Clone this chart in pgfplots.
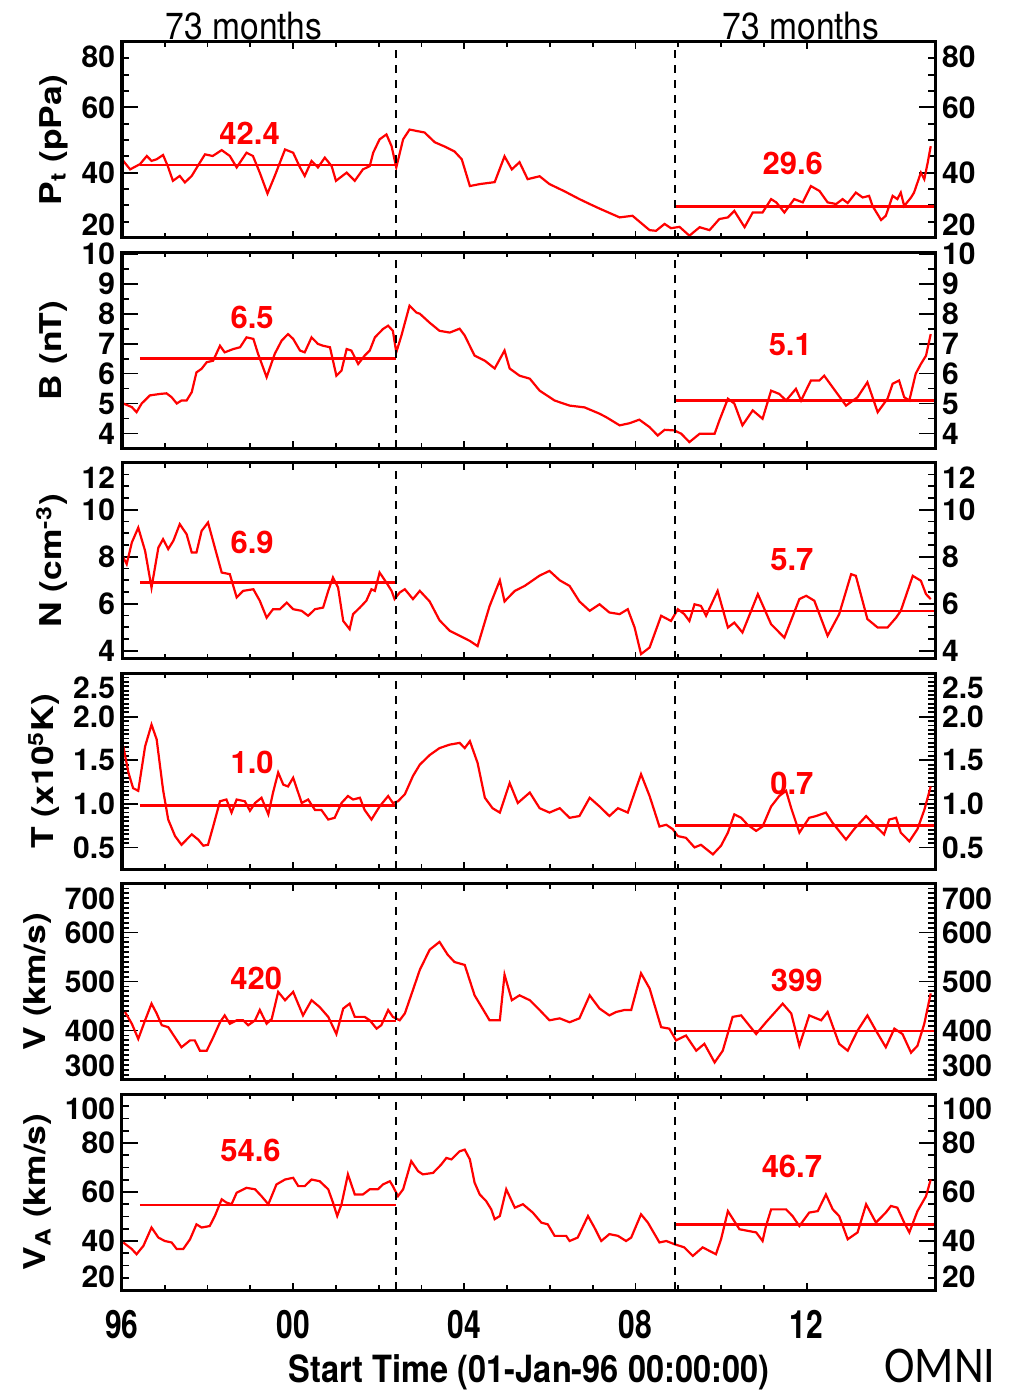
\documentclass[border=0pt]{standalone}
\usepackage{fontspec}
\setmainfont{TeX Gyre Heros}
\newfontfamily\omnifont{Carlito}
\usepackage{pgfplots}
\usepackage{pgfplotstable}
\pgfplotsset{compat=1.18}

\newcommand\tlfont{\fontsize{15}{18}\selectfont\bfseries}
\newcommand\labfont{\fontsize{15}{18}\selectfont\bfseries}
\newcommand\numfont{\fontsize{15.5}{18}\selectfont\bfseries}

\pgfplotsset{
  edgelab/.style 2 args={
    yticklabel={\pgfmathtruncatemacro\lpos{(abs(\tick-(#2))<0.0001)?1:((abs(\tick-(#1))<0.0001)?2:0)}\ifcase\lpos\pgfmathprintnumber{\tick}\or\raisebox{-0.5em}[\height][\depth]{\pgfmathprintnumber{\tick}}\or\raisebox{0.45em}[\height][\depth]{\pgfmathprintnumber{\tick}}\fi},
  },
  common/.style={
    scale only axis, width=406.5pt, height=98pt, anchor=south west,
    xmin=0, xmax=19, tick align=inside,
    axis line style={line width=1.5pt},
    every tick/.style={black, line width=0.9pt},
    tick label style={font=\tlfont},
    /pgf/number format/assume math mode=true,
  },
  panelA/.style={common, xtick=\empty, yticklabel pos=left,
    major tick length=8pt, minor tick length=3.5pt,
    ylabel style={font=\labfont}},
  panelB/.style={common, xtick={0,4,8,12,16}, minor x tick num=3, xticklabels={},
    yticklabel pos=right, minor y tick num=0,
    major tick length=3.5pt, minor tick length=2.5pt, ytick style={draw=none}},
  meanline/.style={red, line width=1.2pt},
  curve/.style={red, line width=1.1pt},
  vdash/.style={black, line width=1pt, dash pattern=on 4pt off 3.5pt},
}

% x = years since 1996-01-01
\pgfplotstableread{
t v
0.03 43.6
0.19 41.0
0.42 42.6
0.58 45.1
0.69 43.6
0.81 44.1
0.96 45.4
1.07 42.0
1.19 37.5
1.35 39.0
1.47 37.0
1.63 39.0
1.82 43.1
1.94 45.6
2.12 45.1
2.33 46.9
2.52 45.1
2.68 41.6
2.91 46.1
3.06 45.1
3.22 40.0
3.40 33.6
3.57 39.0
3.81 47.1
4.00 46.1
4.16 41.6
4.27 39.0
4.43 43.6
4.58 41.6
4.74 44.6
4.90 42.0
5.00 37.5
5.25 40.0
5.44 37.5
5.63 41.0
5.79 42.0
5.87 46.1
6.02 50.2
6.18 51.7
6.30 48.1
6.41 41.6
6.57 50.2
6.72 53.2
6.91 52.7
7.07 52.3
7.31 49.3
7.54 48.0
7.77 46.5
7.94 44.1
8.13 35.9
8.36 36.5
8.71 37.1
8.94 45.0
9.11 41.0
9.29 43.2
9.48 38.0
9.76 38.9
9.99 36.5
10.34 34.3
10.69 31.9
10.93 30.4
11.16 29.0
11.63 26.3
11.93 26.8
12.33 22.4
12.48 22.2
12.68 24.3
12.83 23.0
13.03 23.4
13.26 20.7
13.50 23.3
13.73 22.4
13.96 25.8
14.16 26.3
14.31 28.3
14.55 23.3
14.74 27.8
14.97 27.8
15.17 31.9
15.29 30.9
15.48 27.8
15.71 31.9
15.91 30.9
16.10 35.9
16.30 34.4
16.49 30.9
16.69 30.4
16.84 31.9
16.96 30.7
17.15 33.9
17.31 32.4
17.46 32.9
17.54 29.8
17.74 25.5
17.85 26.8
18.01 32.9
18.12 31.9
18.20 33.9
18.28 29.8
18.44 32.4
18.51 33.9
18.67 40.0
18.75 38.0
18.83 43.1
18.90 48.1
}\ptdata

\pgfplotstableread{
t v
0.03 5.0
0.23 4.88
0.34 4.71
0.46 5.0
0.65 5.27
0.89 5.32
1.04 5.34
1.16 5.21
1.28 5.0
1.39 5.1
1.51 5.1
1.63 5.38
1.74 6.04
1.86 6.16
1.98 6.38
2.13 6.43
2.29 6.93
2.40 6.71
2.60 6.82
2.76 6.88
2.91 7.21
3.07 7.16
3.18 6.66
3.38 5.88
3.57 6.66
3.73 7.1
3.88 7.32
4.00 7.16
4.16 6.77
4.27 6.71
4.43 7.21
4.58 6.99
4.70 6.93
4.86 6.88
5.01 5.93
5.13 6.1
5.25 6.82
5.36 6.77
5.52 6.32
5.67 6.6
5.79 6.77
5.91 7.21
6.10 7.49
6.22 7.6
6.33 7.43
6.41 6.71
6.53 7.27
6.72 8.27
6.88 8.04
6.96 8.0
7.19 7.7
7.42 7.43
7.66 7.37
7.89 7.5
8.01 7.27
8.24 6.6
8.48 6.43
8.71 6.17
8.94 6.77
9.06 6.17
9.29 5.93
9.53 5.83
9.76 5.43
10.11 5.1
10.46 4.93
10.81 4.87
11.16 4.66
11.32 4.54
11.63 4.27
11.86 4.34
12.09 4.46
12.33 4.21
12.52 3.93
12.68 4.12
12.91 4.1
13.07 3.99
13.26 3.71
13.50 3.99
13.85 3.99
13.96 4.43
14.16 5.16
14.31 5.0
14.50 4.27
14.74 4.77
14.97 4.49
15.17 5.43
15.36 5.32
15.52 5.1
15.75 5.49
15.87 5.1
16.10 5.77
16.30 5.77
16.41 5.93
16.69 5.38
16.92 4.93
17.19 5.21
17.42 5.71
17.66 4.71
17.89 5.16
18.01 5.66
18.16 5.77
18.28 5.21
18.40 5.1
18.55 6.0
18.67 6.32
18.79 6.6
18.90 7.32
}\bdata

\pgfplotstableread{
t v
0.03 7.97
0.11 7.69
0.23 8.61
0.38 9.24
0.54 8.25
0.69 6.69
0.85 8.39
0.96 8.75
1.08 8.33
1.20 8.68
1.35 9.39
1.51 8.96
1.63 8.18
1.74 8.18
1.86 9.1
2.01 9.46
2.17 8.39
2.33 7.33
2.52 7.26
2.68 6.27
2.83 6.55
3.07 6.62
3.22 6.13
3.38 5.41
3.53 5.77
3.69 5.77
3.85 6.05
4.00 5.77
4.20 5.7
4.35 5.49
4.51 5.77
4.70 5.84
4.82 6.55
4.93 7.12
5.05 6.69
5.17 5.27
5.32 4.92
5.40 5.56
5.56 5.84
5.71 6.13
5.83 6.62
5.91 6.55
6.02 7.33
6.18 6.9
6.30 6.55
6.37 6.2
6.49 6.48
6.61 6.62
6.80 6.2
6.96 6.55
7.19 6.1
7.42 5.3
7.66 4.85
7.89 4.64
8.13 4.42
8.31 4.2
8.59 5.9
8.83 7.0
8.94 6.1
9.18 6.55
9.41 6.76
9.76 7.2
9.99 7.4
10.23 7.0
10.46 6.76
10.69 6.1
10.93 5.7
11.16 5.98
11.39 5.63
11.63 5.56
11.82 5.77
11.98 4.99
12.13 3.86
12.33 4.14
12.60 5.49
12.83 5.27
12.99 5.77
13.14 5.56
13.26 5.27
13.38 5.98
13.53 5.91
13.65 5.49
13.92 6.55
14.16 4.99
14.31 5.2
14.50 4.78
14.86 6.41
15.17 5.13
15.48 4.56
15.83 6.2
15.99 6.34
16.18 6.13
16.49 4.64
16.76 5.56
17.04 7.26
17.15 7.19
17.42 5.35
17.66 4.99
17.89 4.99
18.09 5.41
18.20 5.7
18.48 7.19
18.67 6.98
18.79 6.41
18.90 6.2
}\ndata

\pgfplotstableread{
t v
0.03 1.66
0.15 1.36
0.26 1.18
0.38 1.15
0.54 1.66
0.69 1.91
0.81 1.74
0.96 1.16
1.08 0.82
1.24 0.63
1.39 0.53
1.63 0.65
1.78 0.59
1.90 0.52
2.01 0.53
2.13 0.74
2.29 1.03
2.44 1.05
2.56 0.90
2.68 1.05
2.87 1.03
2.99 0.92
3.11 1.01
3.26 1.07
3.42 0.88
3.53 1.13
3.65 1.36
3.77 1.22
3.88 1.20
4.00 1.30
4.20 1.01
4.35 1.05
4.51 0.93
4.66 0.93
4.82 0.82
4.97 0.84
5.13 1.01
5.28 1.09
5.40 1.05
5.56 1.07
5.67 0.93
5.83 0.82
6.02 0.97
6.22 1.09
6.33 1.01
6.45 1.03
6.61 1.11
6.80 1.32
6.96 1.45
7.19 1.56
7.42 1.64
7.66 1.68
7.89 1.70
8.01 1.64
8.13 1.72
8.31 1.47
8.48 1.07
8.66 0.95
8.83 0.90
9.06 1.24
9.25 1.01
9.53 1.13
9.76 0.95
9.99 0.90
10.23 0.95
10.46 0.84
10.69 0.86
10.93 1.07
11.16 0.97
11.39 0.86
11.59 0.95
11.82 0.90
11.98 1.13
12.13 1.34
12.33 1.09
12.56 0.74
12.72 0.76
12.87 0.71
12.99 0.63
13.18 0.61
13.38 0.50
13.53 0.53
13.81 0.42
14.00 0.52
14.16 0.67
14.31 0.88
14.47 0.84
14.62 0.76
14.82 0.69
14.97 0.74
15.17 0.97
15.36 1.09
15.52 1.15
15.64 0.95
15.83 0.67
16.06 0.84
16.22 0.86
16.45 0.90
16.61 0.78
16.92 0.59
17.11 0.71
17.39 0.86
17.62 0.74
17.81 0.65
17.93 0.82
18.09 0.84
18.20 0.67
18.40 0.57
18.59 0.71
18.75 0.93
18.90 1.20
}\tdata

\pgfplotstableread{
t v
0.07 438
0.23 414
0.38 383
0.54 421
0.69 455
0.81 435
0.93 411
1.08 407
1.24 386
1.39 366
1.59 380
1.70 380
1.82 359
1.98 359
2.13 386
2.29 417
2.40 431
2.52 414
2.68 421
2.83 421
2.95 411
3.11 421
3.22 442
3.38 414
3.50 424
3.65 479
3.81 462
4.00 479
4.23 431
4.43 462
4.62 448
4.82 428
5.01 393
5.17 445
5.32 455
5.44 428
5.67 428
5.79 421
5.95 404
6.06 411
6.22 442
6.33 428
6.49 421
6.61 435
6.80 483
6.96 524
7.19 565
7.42 581
7.61 555
7.77 540
8.01 534
8.24 472
8.59 421
8.83 421
8.94 514
9.11 462
9.29 472
9.53 462
9.76 442
9.99 421
10.23 425
10.46 417
10.69 425
10.93 472
11.16 445
11.39 431
11.55 438
11.74 442
11.90 442
12.13 517
12.33 486
12.60 407
12.79 404
12.95 380
13.18 390
13.42 359
13.61 373
13.85 335
14.04 359
14.27 428
14.47 431
14.82 393
15.05 417
15.44 455
15.64 435
15.83 369
16.06 431
16.34 421
16.49 438
16.76 373
16.96 359
17.19 400
17.42 431
17.62 400
17.85 366
18.05 404
18.24 393
18.44 355
18.59 369
18.75 414
18.90 476
}\vdata

\pgfplotstableread{
t v
0.03 39.4
0.23 36.7
0.34 34.6
0.50 38.0
0.69 45.5
0.85 41.4
1.00 40.0
1.16 39.4
1.28 36.7
1.43 36.7
1.59 40.7
1.74 46.8
1.86 45.5
2.05 46.1
2.17 50.2
2.33 57.0
2.44 55.7
2.56 55.0
2.68 59.7
2.91 61.7
3.11 61.1
3.26 58.3
3.42 55.0
3.61 63.1
3.81 65.1
4.00 65.8
4.12 62.4
4.27 62.4
4.43 65.1
4.62 64.4
4.82 61.1
4.93 55.7
5.03 50.2
5.13 55.0
5.28 67.2
5.44 59.0
5.63 59.0
5.79 61.1
5.98 61.1
6.10 63.1
6.26 64.4
6.33 62.4
6.45 58.3
6.57 61.1
6.76 72.6
6.92 68.5
7.03 67.2
7.27 67.8
7.46 71.2
7.58 73.9
7.70 73.3
7.89 76.6
8.01 77.3
8.13 73.3
8.24 63.8
8.36 59.0
8.51 56.3
8.63 52.9
8.71 48.9
8.83 50.2
8.98 61.1
9.18 53.6
9.37 55.0
9.60 51.6
9.80 47.5
9.95 46.8
10.11 42.1
10.38 42.1
10.46 40.0
10.65 41.4
10.89 50.2
11.04 45.5
11.20 40.0
11.39 42.8
11.59 42.1
11.78 40.0
11.90 41.4
12.13 50.9
12.29 47.5
12.56 39.4
12.72 40.0
12.91 38.7
13.14 37.4
13.34 33.9
13.57 37.4
13.88 34.6
14.00 40.7
14.16 52.2
14.43 44.8
14.82 43.5
14.97 40.0
15.05 46.1
15.17 52.9
15.52 52.9
15.67 50.2
15.83 46.1
16.06 51.6
16.26 52.2
16.45 59.0
16.61 52.9
16.76 50.2
16.96 40.7
17.19 43.5
17.39 55.0
17.62 47.5
17.85 51.6
17.97 54.3
18.12 53.6
18.28 47.5
18.40 43.5
18.59 52.2
18.79 58.3
18.90 65.1
}\vadata

\begin{document}
\begin{tikzpicture}
\useasboundingbox (0,0) rectangle (512pt,698.5pt);

% ---------- Panel 1: Pt ----------
\begin{axis}[panelA, at={(61pt,579.5pt)}, ymin=20, ymax=80, ytick={20,40,60,80}, minor y tick num=3,
  edgelab={20}{80}, ylabel={\scalebox{1.18}[1]{P\textsubscript{t} (pPa)}}]
\addplot[curve] table[x=t,y=v] {\ptdata};
\addplot[meanline] coordinates {(0.42,42.4) (6.41,42.4)};
\addplot[meanline] coordinates {(12.93,29.6) (19,29.6)};
\addplot[vdash] coordinates {(6.41,20) (6.41,80)};
\addplot[vdash] coordinates {(12.93,20) (12.93,80)};
\node[red,font=\numfont] at (rel axis cs:0.157,0.536) {42.4};
\node[red,font=\numfont] at (rel axis cs:0.825,0.383) {29.6};
\end{axis}
\begin{axis}[panelB, at={(61pt,579.5pt)}, ymin=20, ymax=80, ytick={20,40,60,80}, edgelab={20}{80}]
\end{axis}

% ---------- Panel 2: B ----------
\begin{axis}[panelA, at={(61pt,474.3pt)}, ymin=3.5, ymax=10.05, ytick={4,5,6,7,8,9,10}, minor y tick num=1,
  edgelab={-99}{-99}, ylabel={\scalebox{1.18}[1]{B (nT)}}]
\addplot[curve] table[x=t,y=v] {\bdata};
\addplot[meanline] coordinates {(0.42,6.5) (6.41,6.5)};
\addplot[meanline] coordinates {(12.93,5.1) (19,5.1)};
\addplot[vdash] coordinates {(6.41,3.5) (6.41,10.05)};
\addplot[vdash] coordinates {(12.93,3.5) (12.93,10.05)};
\node[red,font=\numfont] at (rel axis cs:0.160,0.666) {6.5};
\node[red,font=\numfont] at (rel axis cs:0.822,0.528) {5.1};
\end{axis}
\begin{axis}[panelB, at={(61pt,474.3pt)}, ymin=3.5, ymax=10.05, ytick={4,5,6,7,8,9,10}, edgelab={-99}{-99}]
\end{axis}

% ---------- Panel 3: N ----------
\begin{axis}[panelA, at={(61pt,369.1pt)}, ymin=3.66, ymax=12, ytick={4,6,8,10,12}, minor y tick num=3,
  edgelab={-99}{12}, ylabel={\scalebox{1.18}[1]{N (cm\textsuperscript{-3})}}]
\addplot[curve] table[x=t,y=v] {\ndata};
\addplot[meanline] coordinates {(0.42,6.9) (6.41,6.9)};
\addplot[meanline] coordinates {(12.93,5.7) (19,5.7)};
\addplot[vdash] coordinates {(6.41,3.66) (6.41,12)};
\addplot[vdash] coordinates {(12.93,3.66) (12.93,12)};
\node[red,font=\numfont] at (rel axis cs:0.160,0.592) {6.9};
\node[red,font=\numfont] at (rel axis cs:0.824,0.505) {5.7};
\end{axis}
\begin{axis}[panelB, at={(61pt,369.1pt)}, ymin=3.66, ymax=12, ytick={4,6,8,10,12}, edgelab={-99}{12}]
\end{axis}

% ---------- Panel 4: T ----------
\begin{axis}[panelA, at={(61pt,263.9pt)}, ymin=0.25, ymax=2.5, ytick={0.5,1.0,1.5,2.0,2.5}, minor y tick num=9,
  yticklabel style={/pgf/number format/fixed, /pgf/number format/fixed zerofill, /pgf/number format/precision=1},
  edgelab={-99}{2.5}, ylabel={\scalebox{1.18}[1]{T (x10\textsuperscript{5}K)}}]
\addplot[curve] table[x=t,y=v] {\tdata};
\addplot[meanline] coordinates {(0.42,0.98) (6.41,0.98)};
\addplot[meanline] coordinates {(12.93,0.75) (19,0.75)};
\addplot[vdash] coordinates {(6.41,0.25) (6.41,2.5)};
\addplot[vdash] coordinates {(12.93,0.25) (12.93,2.5)};
\node[red,font=\numfont] at (rel axis cs:0.160,0.547) {1.0};
\node[red,font=\numfont] at (rel axis cs:0.824,0.439) {0.7};
\end{axis}
\begin{axis}[panelB, at={(61pt,263.9pt)}, ymin=0.25, ymax=2.5, ytick={0.5,1.0,1.5,2.0,2.5},
  yticklabel style={/pgf/number format/fixed, /pgf/number format/fixed zerofill, /pgf/number format/precision=1},
  edgelab={-99}{2.5}]
\end{axis}

% ---------- Panel 5: V ----------
\begin{axis}[panelA, at={(61pt,158.7pt)}, ymin=300, ymax=700, ytick={300,400,500,600,700}, minor y tick num=9,
  edgelab={300}{700}, ylabel={\scalebox{1.18}[1]{V (km/s)}}]
\addplot[curve] table[x=t,y=v] {\vdata};
\addplot[meanline] coordinates {(0.42,420) (6.41,420)};
\addplot[meanline] coordinates {(12.93,399) (19,399)};
\addplot[vdash] coordinates {(6.41,300) (6.41,700)};
\addplot[vdash] coordinates {(12.93,300) (12.93,700)};
\node[red,font=\numfont] at (rel axis cs:0.165,0.518) {420};
\node[red,font=\numfont] at (rel axis cs:0.830,0.508) {399};
\end{axis}
\begin{axis}[panelB, at={(61pt,158.7pt)}, ymin=300, ymax=700, ytick={300,400,500,600,700}, edgelab={300}{700}]
\end{axis}

% ---------- Panel 6: VA ----------
\begin{axis}[panelA, at={(61pt,53.5pt)}, ymin=20, ymax=100, ytick={20,40,60,80,100}, minor y tick num=3,
  edgelab={20}{100}, ylabel={\scalebox{1.18}[1]{V\textsubscript{A} (km/s)}}]
\addplot[curve] table[x=t,y=v] {\vadata};
\addplot[meanline] coordinates {(0.42,54.6) (6.41,54.6)};
\addplot[meanline] coordinates {(12.93,46.7) (19,46.7)};
\addplot[vdash] coordinates {(6.41,20) (6.41,100)};
\addplot[vdash] coordinates {(12.93,20) (12.93,100)};
\node[red,font=\numfont] at (rel axis cs:0.158,0.714) {54.6};
\node[red,font=\numfont] at (rel axis cs:0.824,0.629) {46.7};
\end{axis}
\begin{axis}[panelB, at={(61pt,53.5pt)}, ymin=20, ymax=100, ytick={20,40,60,80,100}, edgelab={20}{100},
  xticklabels={\scalebox{1}[1.3]{96},\scalebox{1}[1.3]{00},\scalebox{1}[1.3]{04},\scalebox{1}[1.3]{08},\scalebox{1}[1.3]{12}},
  xticklabel style={yshift=-6.5pt}]
\end{axis}

% ---------- texts ----------
\node[anchor=base, font=\fontsize{16.8}{20}\selectfont] at (122pt,678.5pt) {\scalebox{1}[1.12]{73 months}};
\node[anchor=base, font=\fontsize{16.8}{20}\selectfont] at (400.5pt,678.5pt) {\scalebox{1}[1.12]{73 months}};
\node[anchor=base, font=\fontsize{16.3}{20}\selectfont\bfseries] at (264.5pt,7pt) {\scalebox{1}[1.15]{Start Time (01-Jan-96 00:00:00)}};
\node[anchor=base west, inner sep=0pt, font=\omnifont\fontsize{23}{27}\selectfont] at (442pt,7pt) {\scalebox{1}[1.12]{OMNI}};
\end{tikzpicture}
\end{document}
